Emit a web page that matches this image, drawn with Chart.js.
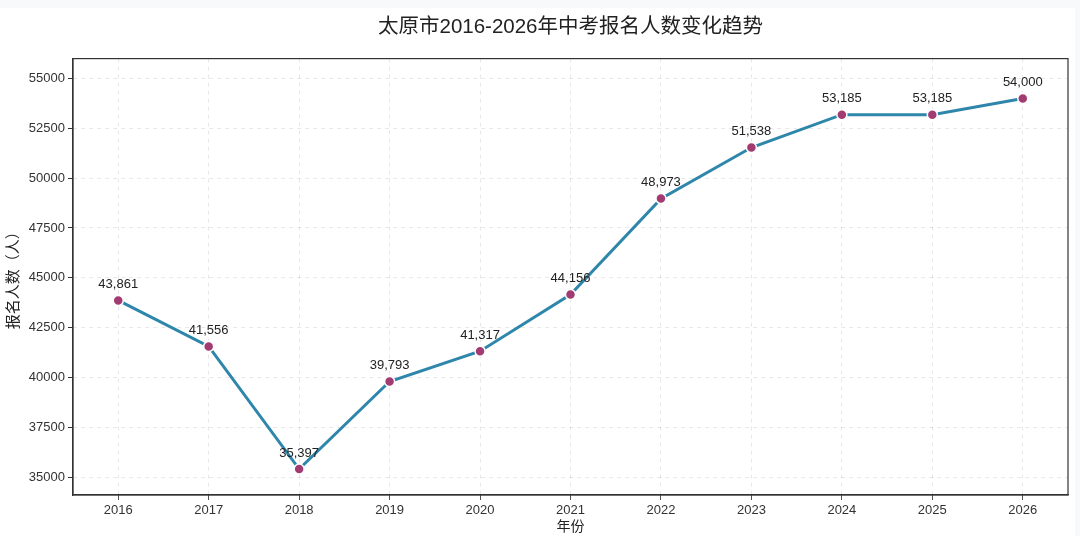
<!DOCTYPE html>
<html>
<head>
<meta charset="utf-8">
<script src="https://cdn.jsdelivr.net/npm/chart.js@4/dist/chart.umd.min.js"></script>
<style>
  html, body { margin: 0; padding: 0; background: #f8f9fb; }
  #wrap { position: absolute; left: 0; top: 8px; width: 1075px; height: 528px; background: #fff; }
</style>
</head>
<body>
<div id="wrap"><canvas id="myCanvas"></canvas></div>
<script>
const years = ["2016", "2017", "2018", "2019", "2020", "2021", "2022", "2023", "2024", "2025", "2026"];
const counts = [43861, 41556, 35397, 39793, 41317, 44156, 48973, 51538, 53185, 53185, 54000];
const yTicks = [35000, 37500, 40000, 42500, 45000, 47500, 50000, 52500, 55000];

const FONT = "'Liberation Sans', 'Noto Sans CJK SC', sans-serif";

// frame on all four sides, like the reference
const frame = {
  id: "frame",
  afterDraw(chart) {
    const { ctx, chartArea: a } = chart;
    ctx.save();
    ctx.setLineDash([]);
    ctx.strokeStyle = "#333";
    ctx.lineWidth = 1.2;
    ctx.strokeRect(a.left, a.top, a.right - a.left, a.bottom - a.top);
    ctx.restore();
  }
};

// value labels above each point
const valueLabels = {
  id: "valueLabels",
  afterDatasetsDraw(chart) {
    const ctx = chart.ctx;
    const meta = chart.getDatasetMeta(0);
    ctx.save();
    ctx.font = "13px " + FONT;
    ctx.fillStyle = "#222";
    ctx.textAlign = "center";
    ctx.textBaseline = "middle";
    meta.data.forEach((p, i) => {
      ctx.fillText(counts[i].toLocaleString("en-US"), p.x, p.y - 16);
    });
    ctx.restore();
  }
};

function createLineChart() {
  const e = document.getElementById("myCanvas").getContext("2d");
  new Chart(e, {
    type: "line",
    data: {
      labels: years,
      datasets: [{
        label: "报名人数",
        data: counts,
        borderColor: "#2E86AB",
        borderWidth: 3,
        tension: 0,
        pointRadius: 5,
        pointHoverRadius: 5,
        pointBackgroundColor: "#A23B72",
        pointBorderColor: "#fff",
        pointBorderWidth: 1.5
      }]
    },
    options: {
      responsive: true,
      maintainAspectRatio: false,
      animation: false,
      layout: { padding: { left: 0, right: 7, top: 0, bottom: 0 } },
      plugins: {
        legend: { display: false },
        tooltip: { enabled: false },
        title: {
          display: true,
          text: "太原市2016-2026年中考报名人数变化趋势",
          fullSize: false,
          color: "#222",
          font: { family: FONT, size: 20.5, weight: "normal" },
          padding: { top: 7, bottom: 19 }
        }
      },
      scales: {
        x: {
          type: "category",
          offset: true,
          grid: {
            offset: false,
            color: "rgba(0,0,0,0.09)",
            tickColor: "#333",
            tickLength: 5,
            tickBorderDash: [1, 0]
          },
          border: { display: true, color: "#333", width: 1.2, dash: [4, 4] },
          ticks: { color: "#333", padding: 3, font: { family: FONT, size: 13 } },
          title: {
            display: true,
            text: "年份",
            color: "#222",
            font: { family: FONT, size: 14 },
            padding: { top: 2, bottom: 0 }
          },
          afterFit(scale) { scale.height = 41; }
        },
        y: {
          min: 34097,
          max: 56000,
          afterBuildTicks(axis) { axis.ticks = yTicks.map(v => ({ value: v })); },
          grid: {
            color: "rgba(0,0,0,0.09)",
            tickColor: "#333",
            tickLength: 5,
            tickBorderDash: [1, 0]
          },
          border: { display: true, color: "#333", width: 1.2, dash: [4, 4] },
          ticks: {
            color: "#333",
            padding: 3,
            font: { family: FONT, size: 13 },
            callback: v => String(v)
          },
          title: {
            display: true,
            text: "报名人数（人）",
            color: "#222",
            font: { family: FONT, size: 15 },
            padding: { top: 5, bottom: 0 }
          },
          afterFit(scale) { scale.width = 73; }
        }
      }
    },
    plugins: [frame, valueLabels]
  });
}
createLineChart();
</script>
</body>
</html>
